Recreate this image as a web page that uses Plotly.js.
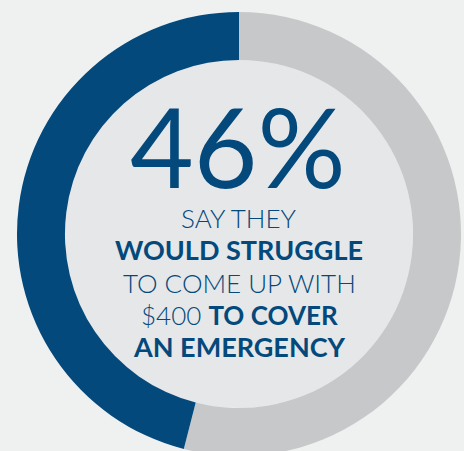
<!DOCTYPE html>
<html>
<head>
<meta charset="utf-8">
<script src="https://cdn.plot.ly/plotly-3.0.1.min.js"></script>
<style>
html,body{margin:0;padding:0;overflow:hidden;background:#eff0f0;}
#chart{width:464px;height:468px;}
</style>
</head>
<body>
<div id="chart"></div>
<script>
const labels = ["Would not struggle", "Would struggle"];
const values = [54, 46];
const sliceColors = ["#c7c8ca", "#03497b"];
const headline = "46%";
const lines = [
  {text: "SAY THEY", bold: false},
  {text: "WOULD STRUGGLE", bold: true},
  {text: "TO COME UP WITH", bold: false},
  {text: "$400 <b>TO COVER</b>", bold: false},
  {text: "AN EMERGENCY", bold: true}
];

const blue = "#03497b";
const holeFrac = 0.784;
const lineY = [0.535, 0.465, 0.39, 0.317, 0.247];

const annotations = [{
  text: headline, x: 0.497, y: 0.700, xref: "paper", yref: "paper",
  xanchor: "center", yanchor: "middle", showarrow: false,
  height: 100, valign: "middle",
  font: {family: "Lato", size: 110, color: blue, weight: 400}
}];
lines.forEach((l, i) => {
  annotations.push({
    text: l.bold ? "<b>" + l.text + "</b>" : l.text,
    x: 0.5, y: lineY[i], xref: "paper", yref: "paper",
    xanchor: "center", yanchor: "middle", showarrow: false,
    font: {family: "Lato", size: l.bold ? 27 : 26, color: blue, weight: 300}
  });
});

const trace = {
  type: "pie",
  labels: labels,
  values: values,
  hole: holeFrac,
  sort: false,
  direction: "clockwise",
  rotation: 0,
  marker: {colors: sliceColors, line: {width: 0}},
  textinfo: "none",
  hoverinfo: "none",
  showlegend: false
};

const layout = {
  width: 464, height: 468,
  margin: {l: 17, r: 3, t: 12, b: 12},
  paper_bgcolor: "#eff0f0",
  plot_bgcolor: "#eff0f0",
  showlegend: false,
  shapes: [{
    type: "circle", xref: "paper", yref: "paper", layer: "below",
    x0: 0.5 - holeFrac / 2, x1: 0.5 + holeFrac / 2,
    y0: 0.5 - holeFrac / 2, y1: 0.5 + holeFrac / 2,
    fillcolor: "#e6e7e9", line: {width: 0}
  }],
  annotations: annotations
};

Plotly.newPlot("chart", [trace], layout, {displayModeBar: false, staticPlot: true});
</script>
</body>
</html>
